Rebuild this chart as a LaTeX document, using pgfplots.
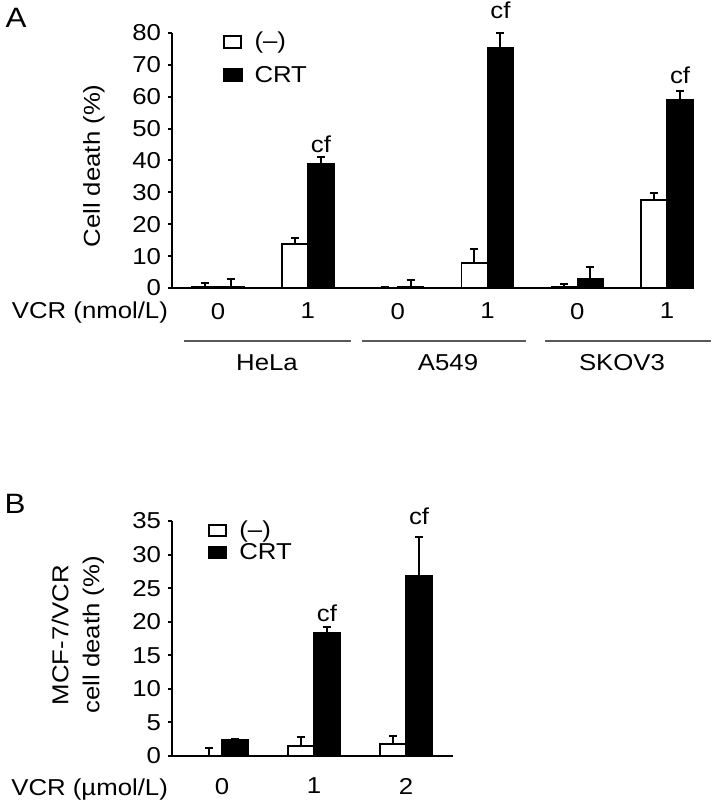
\documentclass[border=0pt]{standalone}
\usepackage{fontspec}
\setmainfont{Liberation Sans}[FakeStretch=1.12]
\usepackage{pgfplots}
\pgfplotsset{compat=1.18}

% common look of both panels
\pgfplotsset{
  panel/.style={
    scale only axis, anchor=south west,
    axis lines*=left,
    axis line style={line width=1.2pt},
    x tick style={draw=none},
    y tick style={line width=1pt, black},
    tick align=outside, major tick length=2pt,
    /pgf/number format/assume math mode=true,
    clip=false,
    legend cell align=left,
    legend style={draw=none, fill=none, inner sep=0pt, anchor=north west,
      nodes={inner sep=2pt},
      /tikz/every odd column/.append style={column sep=4pt}},
  },
  openbar/.style={ybar, bar width=13pt, bar shift=0pt, fill=white, draw=black,
    line width=0.7pt, forget plot,
    error bars/.cd, y dir=plus, y explicit, error mark=-,
    error bar style={line width=1pt},
    error mark options={rotate=90, line width=1pt, mark size=2pt}},
  fullbar/.style={ybar, bar width=13pt, bar shift=0pt, fill=black, draw=black,
    line width=0.7pt, forget plot,
    error bars/.cd, y dir=plus, y explicit, error mark=-,
    error bar style={line width=1pt},
    error mark options={rotate=90, line width=1pt, mark size=2pt}},
}

\begin{document}
\begin{tikzpicture}[font=\fontsize{11.5}{13}\selectfont]

% ---- panel A ----
\begin{axis}[panel,
  at={(86pt,259.5pt)}, width=261pt, height=127.5pt,
  xmin=-0.513, xmax=5.30, ymin=0, ymax=80,
  ytick={0,10,...,80},
  xtick={0,...,5}, xticklabels={0,1,0,1,0,1},
  xticklabel style={yshift=-2pt},
  legend style={at={(0.096,1.02)}, row sep=3pt},
]
\addlegendimage{legend image code/.code={\draw[fill=white,draw=black,line width=1pt] (0pt,-3pt) rectangle (8.5pt,3pt);}}
\addlegendentry{(–)}
\addlegendimage{legend image code/.code={\draw[fill=black,draw=black,line width=1pt] (0pt,-3pt) rectangle (9pt,3pt);}}
\addlegendentry{CRT}

\addplot[openbar] coordinates {
  (-0.145,0.3) +- (0,1.2)
  (0.855,13.8) +- (0,2.0)
  (1.855,0.2)  +- (0,0.0)
  (2.855,7.8)  +- (0,4.4)
  (3.855,0.5)  +- (0,0.6)
  (4.855,27.6) +- (0,2.2)
};
\addplot[fullbar] coordinates {
  (0.145,0.4)  +- (0,2.4)
  (1.145,38.9) +- (0,2.1)
  (2.145,0.3)  +- (0,2.2)
  (3.145,75.5) +- (0,4.5)
  (4.145,2.8)  +- (0,3.9)
  (5.145,59.2) +- (0,2.5)
};
\node at (axis cs:1.145,45.2) {cf};
\node at (axis cs:3.145,87.2) {cf};
\node at (axis cs:5.145,66.8) {cf};
\end{axis}

\node[anchor=east] at (87.5pt,247pt) {VCR (nmol/L)};
\draw[line width=1pt, black!65] (92pt,233pt) -- (175.5pt,233pt);
\draw[line width=1pt, black!65] (181pt,233pt) -- (263pt,233pt);
\draw[line width=1pt, black!65] (272.5pt,233pt) -- (355.5pt,233pt);
\node at (133.5pt,222pt) {HeLa};
\node at (224pt,222pt) {A549};
\node at (311pt,222pt) {SKOV3};
\node[rotate=90] at (47pt,320.5pt) {Cell death (\%)};
\node at (8pt,394.5pt) {\fontsize{14}{16}\selectfont A};

% ---- panel B ----
\begin{axis}[panel,
  at={(86pt,25.5pt)}, width=140.5pt, height=117.5pt,
  xmin=-0.543, xmax=2.51, ymin=0, ymax=35,
  ytick={0,5,...,35},
  xtick={0,1,2}, xticklabels={0,1,2},
  xticklabel style={yshift=-5.5pt},
  legend style={at={(0.128,1.02)}, row sep=-2.5pt},
]
\addlegendimage{legend image code/.code={\draw[fill=white,draw=black,line width=1pt] (0pt,-2.75pt) rectangle (8.5pt,2.75pt);}}
\addlegendentry{(–)}
\addlegendimage{legend image code/.code={\draw[fill=black,draw=black,line width=1pt] (0pt,-2.75pt) rectangle (8.5pt,2.75pt);}}
\addlegendentry{CRT}

\addplot[openbar] coordinates {
  (-0.141,0.0) +- (0,1.2)
  (0.859,1.5)  +- (0,1.3)
  (1.859,1.8)  +- (0,1.2)
};
\addplot[fullbar] coordinates {
  (0.141,2.4)  +- (0,0.2)
  (1.141,18.3) +- (0,0.9)
  (2.141,26.8) +- (0,5.8)
};
\node at (axis cs:1.141,21.3) {cf};
\node at (axis cs:2.141,35.7) {cf};
\end{axis}

\node[anchor=east] at (87.5pt,8.5pt) {VCR (µmol/L)};
\node[rotate=90, align=center] at (39pt,86pt) {MCF-7/VCR\\[2.5pt]cell death (\%)};
\node at (7.5pt,151.5pt) {\fontsize{14}{16}\selectfont B};

\pgfresetboundingbox
\path (0pt,0pt) rectangle (357pt,403.5pt);
\end{tikzpicture}
\end{document}
